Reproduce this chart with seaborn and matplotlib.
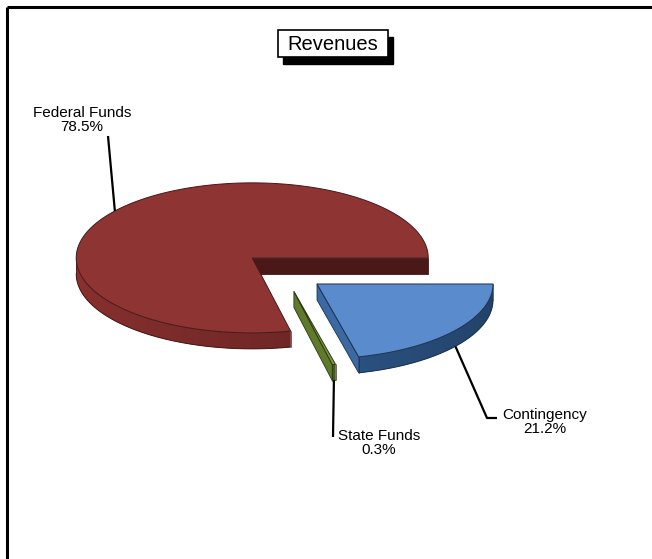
import numpy as np
import matplotlib
matplotlib.use("Agg")
import matplotlib.pyplot as plt
from matplotlib.patches import Polygon, Rectangle
from matplotlib.colors import to_rgb
import seaborn as sns

# Revenue shares (percent), in counter-clockwise order starting at 3 o'clock
categories = ["Federal Funds", "State Funds", "Contingency"]
shares = [78.5, 0.3, 21.2]
top_colors = ["#8E3533", "#7A9A3E", "#5A8BCD"]
side_colors = ["#7C2C2A", "#4F6228", "#2F5A8E"]
cut_colors = ["#4A1917", "#5E7A2A", "#3B69A3"]
title = "Revenues"

sns.set_theme(style="white")
plt.rcParams["font.family"] = ["Liberation Sans", "DejaVu Sans"]

W, H = 652, 559
fig = plt.figure(figsize=(W / 100, H / 100), dpi=100)
ax = fig.add_axes([0, 0, 1, 1])
ax.axis("off")

# pie projection (pixel units)
center = np.array([284.5, 271.0])
rx, ry, depth = 176.0, 75.0, 16.0
explode_x, explode_y = 0.235, 0.28


def point(c, ang, r=1.0, dz=0.0):
    a = np.radians(ang)
    return (c[0] + rx * r * np.cos(a), c[1] - ry * r * np.sin(a) + dz)


def rim_factor(ang):
    return 1.06 - 0.30 * (ang - 180) / 180 + 0.06 * np.cos(np.radians(ang - 200))


total = sum(shares)
starts = np.concatenate([[0], np.cumsum(shares)[:-1]]) / total * 360
ends = np.cumsum(shares) / total * 360

slice_geo = []
for a1, a2 in zip(starts, ends):
    mid = np.radians((a1 + a2) / 2)
    c = center + np.array([explode_x * rx * np.cos(mid), -explode_y * ry * np.sin(mid)])
    slice_geo.append((a1, a2, c))

for i in range(len(categories)):
    a1, a2, c = slice_geo[i]
    side = np.array(to_rgb(side_colors[i]))
    edge = tuple(side * 0.55)

    # radial cut faces that turn toward the viewer
    for a, normal in ((a1, a1 - 90), (a2, a2 + 90)):
        if np.sin(np.radians(normal)) < -1e-6:
            quad = [point(c, a, 0), point(c, a, 1), point(c, a, 1, depth), point(c, a, 0, depth)]
            ax.add_patch(Polygon(quad, closed=True, facecolor=cut_colors[i],
                                 edgecolor=edge, lw=0.6, zorder=2))

    # front part of the outer wall, with a smooth shading gradient
    lo, hi = max(a1, 180.0), min(a2, 360.0)
    if hi > lo:
        angs = np.linspace(lo, hi, max(3, int(hi - lo) * 2 + 2))
        top_arc = [point(c, a) for a in angs]
        bot_arc = [point(c, a, 1, depth) for a in angs[::-1]]
        wall = Polygon(top_arc + bot_arc, closed=True, facecolor=tuple(side),
                       edgecolor="none", zorder=3)
        ax.add_patch(wall)
        xs = [p[0] for p in top_arc + bot_arc]
        ys = [p[1] for p in top_arc + bot_arc]
        x0, x1 = min(xs) - 1, max(xs) + 1
        y0, y1 = min(ys) - 1, max(ys) + 1
        cols = np.linspace(x0, x1, 400)
        cosv = np.clip((cols - c[0]) / rx, -1, 1)
        col_ang = 360 - np.degrees(np.arccos(cosv))
        f = np.clip(rim_factor(col_ang), 0, 1.4)
        img = np.clip(side[None, None, :] * f[None, :, None], 0, 1)
        img = np.repeat(img, 2, axis=0)
        im = ax.imshow(img, extent=(x0, x1, y1, y0), origin="upper",
                       interpolation="bilinear", zorder=3.1, aspect="auto")
        im.set_clip_path(wall)
        ax.plot(*zip(*bot_arc), color=edge, lw=0.7, zorder=4)
        for a in (lo, hi):
            ax.plot(*zip(point(c, a), point(c, a, 1, depth)), color=edge, lw=0.5, zorder=4)

    # top face
    arc = [point(c, a) for a in np.linspace(a1, a2, max(3, int(a2 - a1) + 2))]
    ax.add_patch(Polygon([tuple(c)] + arc, closed=True, facecolor=top_colors[i],
                         edgecolor=edge, lw=0.7, zorder=5))

# data labels with leader lines anchored at each slice's mid angle
label_pos = {"Federal Funds": (82, 120), "State Funds": (379, 443), "Contingency": (545, 422)}
leader_end = {"Federal Funds": [(108, 136)], "State Funds": [(333, 437)],
              "Contingency": [(487, 418), (497, 418)]}
for i, name in enumerate(categories):
    a1, a2, c = slice_geo[i]
    mid = (a1 + a2) / 2
    dz = depth if np.sin(np.radians(mid)) < 0 else 0.0
    anchor = point(c, mid, 1, dz)
    pts = [anchor] + leader_end[name]
    ax.plot(*zip(*pts), color="black", lw=1.6, zorder=6, solid_capstyle="butt")
    x, y = label_pos[name]
    ax.text(x, y, f"{name}\n{shares[i]:.1f}%", ha="center", va="center",
            fontsize=11, color="black", linespacing=1.05, zorder=7)

# title box with drop shadow
bx, by, bw, bh = 278, 30, 110, 27
ax.add_patch(Rectangle((bx + 5, by + 7), bw, bh, facecolor="black", edgecolor="black", zorder=8))
ax.add_patch(Rectangle((bx, by), bw, bh, facecolor="white", edgecolor="black", lw=1.2, zorder=9))
ax.text(bx + bw / 2, by + bh / 2 + 1, title, ha="center", va="center",
        fontsize=14.5, color="black", zorder=10)

# chart area frame
ax.plot([7, W], [7, 7], color="black", lw=2.2, zorder=1, solid_capstyle="butt")
ax.plot([7, 7], [7, H], color="black", lw=2.2, zorder=1, solid_capstyle="butt")

ax.set_xlim(0, W)
ax.set_ylim(H, 0)
ax.set_aspect("auto")

fig.savefig("out.png", dpi=100, facecolor="white")
